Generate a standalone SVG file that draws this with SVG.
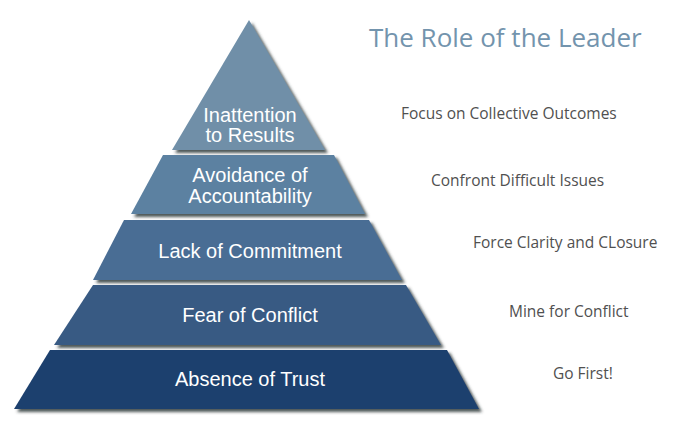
<svg xmlns="http://www.w3.org/2000/svg" width="682" height="427" viewBox="0 0 682 427">
<defs>
<filter id="sh" x="-10%" y="-10%" width="130%" height="130%">
<feDropShadow dx="3" dy="3" stdDeviation="1.4" flood-color="#2f3b38" flood-opacity="0.85"/>
</filter>
</defs>
<style>
.tier{filter:url(#sh);}
.lbl{font-family:"Liberation Sans",Arial,sans-serif;font-size:20px;fill:#ffffff;text-anchor:middle;}
.side{font-family:"Open Sans","Noto Sans",sans-serif;font-size:15.5px;fill:#505050;}
.title{font-family:"Open Sans","Noto Sans",sans-serif;font-size:26px;fill:#7394ad;}
</style>
<rect width="682" height="427" fill="#ffffff"/>
<g id="tier-results">
<polygon class="tier" points="249,20 325,150 172,150" fill="#6f8fa8"/>
<text class="lbl" x="250" y="122">Inattention</text>
<text class="lbl" x="250" y="142">to Results</text>
</g>
<g id="tier-accountability">
<polygon class="tier" points="163,155 334,155 365,214 131,214" fill="#5c81a1"/>
<text class="lbl" x="250" y="182">Avoidance of</text>
<text class="lbl" x="250" y="203">Accountability</text>
</g>
<g id="tier-commitment">
<polygon class="tier" points="124,220 369,220 402,280 93,280" fill="#4a6d94"/>
<text class="lbl" x="250" y="258">Lack of Commitment</text>
</g>
<g id="tier-conflict">
<polygon class="tier" points="93,285 406,285 441,345 54,345" fill="#385a83"/>
<text class="lbl" x="250" y="322">Fear of Conflict</text>
</g>
<g id="tier-trust">
<polygon class="tier" points="50,350 447,350 479,409 14,409" fill="#1f406e"/>
<text class="lbl" x="250" y="386">Absence of Trust</text>
</g>
<g id="title">
<text class="title" x="369" y="47">The Role of the Leader</text>
</g>
<g id="roles">
<text class="side" x="401" y="119">Focus on Collective Outcomes</text>
<text class="side" x="431" y="186">Confront Difficult Issues</text>
<text class="side" x="473" y="248">Force Clarity and CLosure</text>
<text class="side" x="509" y="317">Mine for Conflict</text>
<text class="side" x="553" y="379">Go First!</text>
</g>
<g id="connectors"></g>
</svg>
